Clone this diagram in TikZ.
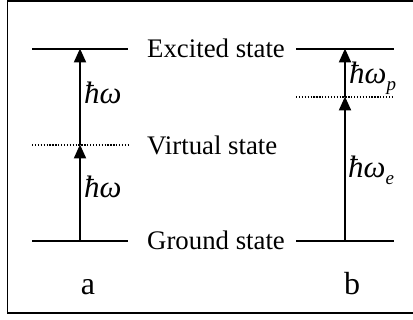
\documentclass[tikz,border=0pt]{standalone}
\usepackage{fontspec}
\setmainfont{Liberation Serif}
\usetikzlibrary{arrows.meta}
\tikzset{
  level/.style={line width=2.2pt},
  virt/.style={line width=1.5pt, dash pattern=on 1.3pt off 1.6pt},
  trans/.style={line width=2.2pt, -{Triangle[width=12pt,length=14pt]}, shorten >=-0.5pt},
  lbl/.style={anchor=base west, inner sep=0pt, font=\fontsize{26.8}{30}\selectfont},
  qlbl/.style={anchor=base west, inner sep=0pt, font=\fontsize{31}{34}\selectfont\itshape},
  panel/.style={anchor=base, inner sep=0pt, font=\fontsize{32}{36}\selectfont},
  frame/.style={line width=1.8pt}
}
\begin{document}
\begin{tikzpicture}[x=1pt,y=-1pt]
\useasboundingbox (0,0) rectangle (413,320);
% frame
\coordinate (fa) at (413,0.8);
\coordinate (fb) at (7.5,0.8);
\coordinate (fc) at (7.5,313);
\coordinate (fd) at (413,313);
\draw[frame] (fa) -- (fb) -- (fc) -- (fd);
% levels, panel a
\coordinate (ea1) at (32,49);  \coordinate (ea2) at (128,49);
\coordinate (va1) at (32,145); \coordinate (va2) at (128,145);
\coordinate (ga1) at (32,241); \coordinate (ga2) at (128,241);
\draw[level] (ea1) -- (ea2);
\draw[virt] (va1) -- (va2);
\draw[level] (ga1) -- (ga2);
% levels, panel b
\coordinate (eb1) at (296,49);  \coordinate (eb2) at (394,49);
\coordinate (vb1) at (296,97);  \coordinate (vb2) at (394,97);
\coordinate (gb1) at (296,241); \coordinate (gb2) at (394,241);
\draw[level] (eb1) -- (eb2);
\draw[virt] (vb1) -- (vb2);
\draw[level] (gb1) -- (gb2);
% transitions
\coordinate (ag) at (80,241); \coordinate (av) at (80,145); \coordinate (ae) at (80,49);
\coordinate (bg) at (345,241); \coordinate (bv) at (345,97); \coordinate (be) at (345,49);
\draw[trans] (ag) -- (av);
\draw[trans] (av) -- (ae);
\draw[trans] (bg) -- (bv);
\draw[trans] (bv) -- (be);
% state labels
\node[lbl] (exc) at (147,58) {Excited state};
\node[lbl] (vir) at (147,155) {Virtual state};
\node[lbl] (gro) at (147,250) {Ground state};
% photon labels
\node[qlbl] (w1) at (84,104) {ħω};
\node[qlbl] (w2) at (84,198) {ħω};
\node[qlbl] (wp) at (349,84) {ħω\raisebox{-7pt}{\fontsize{19}{22}\selectfont p}};
\node[qlbl] (we) at (348,178) {ħω\raisebox{-7pt}{\fontsize{19}{22}\selectfont e}};
% panel labels
\node[panel] (la) at (88,295) {a};
\node[panel] (lb) at (352,295) {b};
\end{tikzpicture}
\end{document}
